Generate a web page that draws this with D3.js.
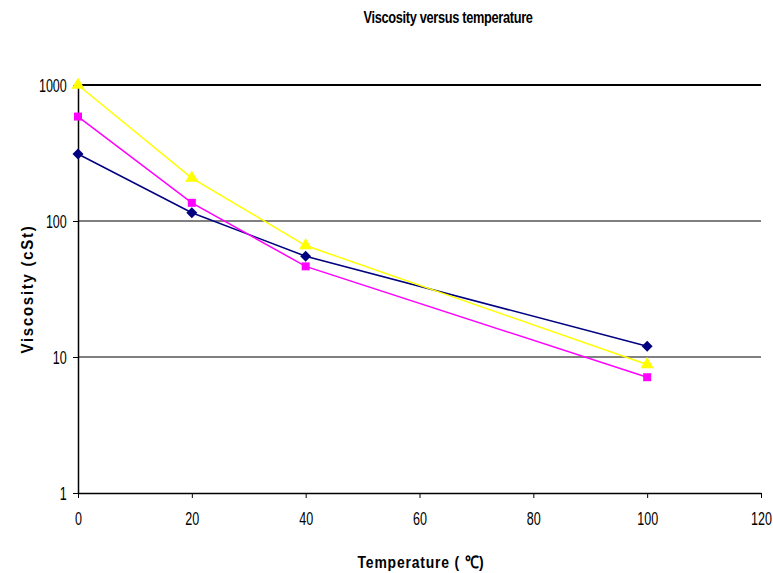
<!DOCTYPE html>
<html>
<head>
<meta charset="utf-8">
<script src="https://cdn.jsdelivr.net/npm/d3@7"></script>
<style>
  body { margin: 0; background: #fff; }
  text { font-family: "Liberation Sans", Arial, sans-serif; }
</style>
</head>
<body>
<svg id="chart" width="773" height="573"></svg>
<script>
// temperatures (deg C) and viscosities (cSt)
var temperatures = [0, 20, 40, 100];
var seriesA = [311, 115, 55, 12.0];   // navy diamonds
var seriesB = [586, 136, 46.4, 7.1];  // magenta squares
var seriesC = [1000, 207, 66, 8.8];   // yellow triangles
var xTicks = [0, 20, 40, 60, 80, 100, 120];
var yTicks = [1, 10, 100, 1000];

var series = [
    { values: seriesA, color: "#000080", symbol: d3.symbolSquare, size: 60, rot: "rotate(45)" },
    { values: seriesB, color: "#ff00ff", symbol: d3.symbolSquare, size: 64, rot: "" },
    { values: seriesC, color: "#ffff00", symbol: d3.symbolTriangle, size: 75, rot: "" }
];

var svg = d3.select("#chart");
var margin = { top: 85, right: 12, bottom: 80, left: 78 }
    , width = svg.attr("width") - margin.left - margin.right
    , height = svg.attr("height") - margin.top - margin.bottom;

var xScale = d3.scaleLinear().domain([0, 120]).range([0, width]);
var yScale = d3.scaleLog().domain([1, 1000]).range([height, 0]);

var g = svg.append("g")
    .attr("transform", `translate(${margin.left},${margin.top})`);

// gridlines
g.selectAll(".grid")
    .data(yTicks.slice(1))
    .enter().append("line")
    .attr("x1", 0).attr("x2", width)
    .attr("y1", d => yScale(d)).attr("y2", d => yScale(d))
    .attr("stroke", d => d === 1000 ? "#000" : "#808080")
    .attr("stroke-width", 2);

// x axis
var xAxis = g.append("g")
    .attr("transform", "translate(0," + height + ")")
    .call(d3.axisBottom(xScale).tickValues(xTicks).tickSize(5).tickPadding(14).tickSizeOuter(0));
xAxis.select(".domain").attr("stroke", "#000").attr("stroke-width", 1.5);
xAxis.selectAll("text").style("font-size", "19px").attr("fill", "#000")
    .attr("transform", "scale(0.66,1)");

// y axis
var yAxis = g.append("g")
    .call(d3.axisLeft(yScale).tickValues(yTicks).tickFormat(d3.format("d")).tickSize(5).tickPadding(4).tickSizeOuter(0));
yAxis.select(".domain").attr("stroke", "#000").attr("stroke-width", 1.5);
yAxis.selectAll("text").style("font-size", "19px").attr("fill", "#000")
    .attr("x", -17)
    .attr("dy", "0.36em")
    .attr("transform", "scale(0.66,1)");

// lines and markers
var line = d3.line()
    .x((d, i) => xScale(temperatures[i]))
    .y(d => yScale(d));

series.forEach(function (s) {
    g.append("path")
        .datum(s.values)
        .attr("fill", "none")
        .attr("stroke", s.color)
        .attr("stroke-width", 1.5)
        .attr("d", line);
});
series.forEach(function (s) {
    g.selectAll(null)
        .data(s.values)
        .enter().append("path")
        .attr("transform", (d, i) => `translate(${xScale(temperatures[i])},${yScale(d)}) ${s.rot}`)
        .attr("d", d3.symbol().type(s.symbol).size(s.size))
        .attr("fill", s.color);
});

// titles
svg.append("text")
    .attr("transform", "translate(448,23) scale(0.8,1)")
    .style("text-anchor", "middle")
    .style("font-size", "16px")
    .style("font-weight", "bold")
    .style("letter-spacing", "-0.4px")
    .text("Viscosity versus temperature");

svg.append("text")
    .attr("transform", "translate(421,568) scale(0.82,1)")
    .style("text-anchor", "middle")
    .style("font-size", "17px")
    .style("font-weight", "bold")
    .style("letter-spacing", "1px")
    .text("Temperature ( ℃)");

svg.append("text")
    .attr("transform", "translate(33,289) rotate(-90) scale(0.88,1)")
    .style("text-anchor", "middle")
    .style("font-size", "17px")
    .style("font-weight", "bold")
    .style("letter-spacing", "2px")
    .text("Viscosity (cSt)");
</script>
</body>
</html>
